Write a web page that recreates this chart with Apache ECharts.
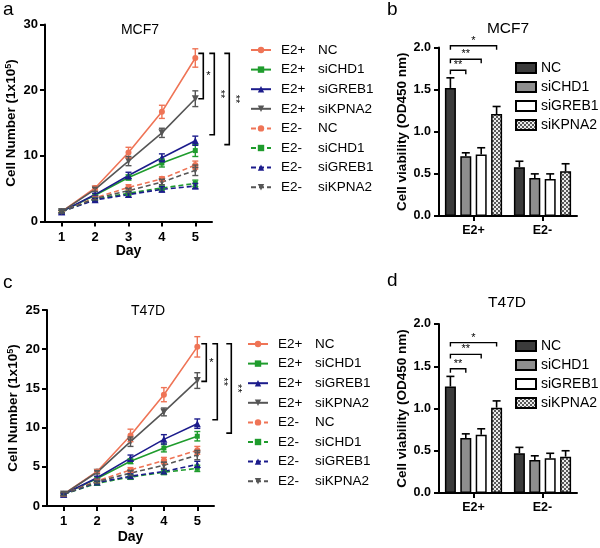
<!DOCTYPE html>
<html><head><meta charset="utf-8">
<script src="https://cdn.jsdelivr.net/npm/echarts@6/dist/echarts.min.js"></script>
<style>html,body{margin:0;padding:0;background:#fff}#c{width:600px;height:548px}</style>
</head><body><div id="c"></div>
<script>
// ---------------- DATA ----------------
const days = ['1','2','3','4','5'];
const lineNames = ['E2+ NC','E2+ siCHD1','E2+ siGREB1','E2+ siKPNA2','E2- NC','E2- siCHD1','E2- siGREB1','E2- siKPNA2'];
const yTicksA = [0,10,20,30];
const yTicksC = [0,5,10,15,20,25];

// Panel a: MCF7 cell number (x10^5)
const mcf7_E2p_NC     = [1.5, 5.1, 10.5, 16.7, 24.9];
const mcf7_E2p_siCHD1 = [1.5, 4.0, 6.7, 8.9, 10.8];
const mcf7_E2p_siGREB1= [1.5, 4.1, 7.0, 9.7, 12.3];
const mcf7_E2p_siKPNA2= [1.5, 4.9, 9.2, 13.5, 18.7];
const mcf7_E2m_NC     = [1.5, 3.6, 5.2, 6.5, 8.6];
const mcf7_E2m_siCHD1 = [1.5, 3.4, 4.3, 5.1, 5.8];
const mcf7_E2m_siGREB1= [1.5, 3.3, 4.1, 4.9, 5.4];
const mcf7_E2m_siKPNA2= [1.5, 3.5, 4.7, 6.0, 7.8];
const mcf7_err_E2p_NC     = [0.2, 0.3, 0.8, 1.0, 1.4];
const mcf7_err_E2p_siCHD1 = [0.2, 0.2, 0.4, 0.6, 0.9];
const mcf7_err_E2p_siGREB1= [0.2, 0.2, 0.5, 0.6, 0.7];
const mcf7_err_E2p_siKPNA2= [0.2, 0.3, 0.7, 0.7, 1.2];
const mcf7_err_E2m_NC     = [0.2, 0.2, 0.4, 0.3, 0.6];
const mcf7_err_E2m_siCHD1 = [0.2, 0.2, 0.3, 0.3, 0.5];
const mcf7_err_E2m_siGREB1= [0.2, 0.2, 0.4, 0.4, 0.4];
const mcf7_err_E2m_siKPNA2= [0.2, 0.2, 0.3, 0.4, 0.8];

// Panel c: T47D cell number (x10^5)
const t47d_E2p_NC     = [1.5, 4.4, 9.0, 14.2, 20.3];
const t47d_E2p_siCHD1 = [1.5, 3.5, 5.7, 7.4, 8.9];
const t47d_E2p_siGREB1= [1.5, 3.6, 6.1, 8.5, 10.5];
const t47d_E2p_siKPNA2= [1.5, 4.3, 8.2, 12.0, 16.0];
const t47d_E2m_NC     = [1.5, 3.2, 4.6, 5.8, 7.1];
const t47d_E2m_siCHD1 = [1.5, 2.9, 3.7, 4.3, 4.8];
const t47d_E2m_siGREB1= [1.5, 3.0, 3.8, 4.4, 5.3];
const t47d_E2m_siKPNA2= [1.5, 3.1, 4.2, 5.2, 6.5];
const t47d_err_E2p_NC     = [0.2, 0.2, 0.8, 0.9, 1.3];
const t47d_err_E2p_siCHD1 = [0.2, 0.2, 0.3, 0.5, 0.6];
const t47d_err_E2p_siGREB1= [0.2, 0.2, 0.4, 0.6, 0.6];
const t47d_err_E2p_siKPNA2= [0.2, 0.2, 0.6, 0.5, 1.0];
const t47d_err_E2m_NC     = [0.2, 0.2, 0.3, 0.4, 0.5];
const t47d_err_E2m_siCHD1 = [0.1, 0.2, 0.3, 0.3, 0.4];
const t47d_err_E2m_siGREB1= [0.1, 0.2, 0.3, 0.3, 0.4];
const t47d_err_E2m_siKPNA2= [0.2, 0.2, 0.3, 0.4, 0.6];

// Significance brackets for line panels: [top value, bottom value] at day 5
const mcf7_lineSig = [[25.6, 18.7], [25.6, 13.2], [25.6, 11.7]];
const t47d_lineSig = [[20.7, 15.9], [20.7, 11.0], [20.7, 9.3]];
const lineSigLabels = ['*', '**', '**'];

// Panels b, d: cell viability (OD450 nm)
const barGroups = ['E2+', 'E2-'];
const barNames = ['NC', 'siCHD1', 'siGREB1', 'siKPNA2'];
const mcf7_bar_NC      = [1.52, 0.58];
const mcf7_bar_siCHD1  = [0.71, 0.45];
const mcf7_bar_siGREB1 = [0.73, 0.44];
const mcf7_bar_siKPNA2 = [1.21, 0.53];
const mcf7_barErr_NC      = [0.12, 0.07];
const mcf7_barErr_siCHD1  = [0.04, 0.05];
const mcf7_barErr_siGREB1 = [0.08, 0.06];
const mcf7_barErr_siKPNA2 = [0.09, 0.09];
const t47d_bar_NC      = [1.26, 0.47];
const t47d_bar_siCHD1  = [0.65, 0.39];
const t47d_bar_siGREB1 = [0.69, 0.41];
const t47d_bar_siKPNA2 = [1.01, 0.43];
const t47d_barErr_NC      = [0.12, 0.07];
const t47d_barErr_siCHD1  = [0.05, 0.05];
const t47d_barErr_siGREB1 = [0.07, 0.06];
const t47d_barErr_siKPNA2 = [0.08, 0.07];
// bar significance brackets: [from bar, to bar, height]
const mcf7_barSig = [[0, 1, 1.73], [0, 2, 1.86], [0, 3, 2.02]];
const t47d_barSig = [[0, 1, 1.47], [0, 2, 1.64], [0, 3, 1.78]];
const barSigLabels = ['**', '**', '*'];

// ---------------- STYLE ----------------
const FONT = 'Liberation Sans, Arial, sans-serif';
const lineColors = ['#ef7456', '#1f9c2d', '#1c1c8c', '#565656'];
const symbols = ['circle', 'rect', 'triangle', 'triangle'];
const symRot = [0, 0, 0, 180];
const symSize = [6, 5, 7, 7];
const barW = 11, barGapRatio = 0.4;

const pat = document.createElement('canvas');
pat.width = 4; pat.height = 4;
(function () {
  const g = pat.getContext('2d');
  g.fillStyle = '#ececec'; g.fillRect(0, 0, 4, 4);
  g.fillStyle = '#5a5a5a'; g.fillRect(0, 0, 2, 2); g.fillRect(2, 2, 2, 2);
})();
const barFills = ['#3b3b3b', '#8e8e8e', '#ffffff', { image: pat, repeat: 'repeat' }];

const mcf7Lines = [mcf7_E2p_NC, mcf7_E2p_siCHD1, mcf7_E2p_siGREB1, mcf7_E2p_siKPNA2, mcf7_E2m_NC, mcf7_E2m_siCHD1, mcf7_E2m_siGREB1, mcf7_E2m_siKPNA2];
const mcf7Errs = [mcf7_err_E2p_NC, mcf7_err_E2p_siCHD1, mcf7_err_E2p_siGREB1, mcf7_err_E2p_siKPNA2, mcf7_err_E2m_NC, mcf7_err_E2m_siCHD1, mcf7_err_E2m_siGREB1, mcf7_err_E2m_siKPNA2];
const t47dLines = [t47d_E2p_NC, t47d_E2p_siCHD1, t47d_E2p_siGREB1, t47d_E2p_siKPNA2, t47d_E2m_NC, t47d_E2m_siCHD1, t47d_E2m_siGREB1, t47d_E2m_siKPNA2];
const t47dErrs = [t47d_err_E2p_NC, t47d_err_E2p_siCHD1, t47d_err_E2p_siGREB1, t47d_err_E2p_siKPNA2, t47d_err_E2m_NC, t47d_err_E2m_siCHD1, t47d_err_E2m_siGREB1, t47d_err_E2m_siKPNA2];
const mcf7Bars = [mcf7_bar_NC, mcf7_bar_siCHD1, mcf7_bar_siGREB1, mcf7_bar_siKPNA2];
const mcf7BarErrs = [mcf7_barErr_NC, mcf7_barErr_siCHD1, mcf7_barErr_siGREB1, mcf7_barErr_siKPNA2];
const t47dBars = [t47d_bar_NC, t47d_bar_siCHD1, t47d_bar_siGREB1, t47d_bar_siKPNA2];
const t47dBarErrs = [t47d_barErr_NC, t47d_barErr_siCHD1, t47d_barErr_siGREB1, t47d_barErr_siKPNA2];

const axisLineStyle = { lineStyle: { color: '#000', width: 2 } };
const axisTickStyle = { show: true, length: 5, inside: false, lineStyle: { color: '#000', width: 2 } };

function lineXAxis(gi, nameGap) {
  return {
    gridIndex: gi, type: 'category', data: days, boundaryGap: true,
    axisLine: axisLineStyle, axisTick: Object.assign({ alignWithLabel: true }, axisTickStyle),
    axisLabel: { color: '#000', fontWeight: 'bold', fontSize: 13, fontFamily: FONT, margin: 9 },
    name: 'Day', nameLocation: 'middle', nameGap: nameGap,
    nameTextStyle: { color: '#000', fontWeight: 'bold', fontSize: 14, fontFamily: FONT }
  };
}
function lineYAxis(gi, ticks) {
  return {
    gridIndex: gi, type: 'value', min: ticks[0], max: ticks[ticks.length - 1], interval: ticks[1] - ticks[0],
    axisLine: { show: true, lineStyle: { color: '#000', width: 2 } }, axisTick: axisTickStyle, splitLine: { show: false },
    axisLabel: { color: '#000', fontWeight: 'bold', fontSize: 13, fontFamily: FONT, margin: 7 },
    name: '{n|Cell Number (1x10}{s|5}{n|)}', nameLocation: 'middle', nameGap: 26, nameRotate: 90,
    nameTextStyle: {
      rich: {
        n: { color: '#000', fontWeight: 'bold', fontSize: 13.5, fontFamily: FONT },
        s: { color: '#000', fontWeight: 'bold', fontSize: 9, fontFamily: FONT, verticalAlign: 'top', padding: [0, 0, 6, 0] }
      }
    }
  };
}
function barXAxis(gi) {
  return {
    gridIndex: gi, type: 'category', data: barGroups,
    axisLine: axisLineStyle, axisTick: Object.assign({ alignWithLabel: true }, axisTickStyle),
    axisLabel: { color: '#000', fontWeight: 'bold', fontSize: 12.5, fontFamily: FONT, margin: 8 }
  };
}
function barYAxis(gi) {
  return {
    gridIndex: gi, type: 'value', min: 0, max: 2, interval: 0.5,
    axisLine: { show: true, lineStyle: { color: '#000', width: 2 } }, axisTick: axisTickStyle, splitLine: { show: false },
    axisLabel: { color: '#000', fontWeight: 'bold', fontSize: 12.5, fontFamily: FONT, margin: 8, formatter: v => v.toFixed(1) },
    name: 'Cell viability (OD450 nm)', nameLocation: 'middle', nameGap: 30, nameRotate: 90,
    nameTextStyle: { color: '#000', fontWeight: 'bold', fontSize: 13.5, fontFamily: FONT }
  };
}

const series = [];
function addLinePanel(gi, lines, errs, sig, sigOffsets) {
  lines.forEach((vals, k) => {
    const c = lineColors[k % 4];
    const dashed = k >= 4;
    series.push({
      name: lineNames[k], type: 'line', xAxisIndex: gi, yAxisIndex: gi, data: vals,
      symbol: symbols[k % 4], symbolRotate: symRot[k % 4], symbolSize: symSize[k % 4],
      showAllSymbol: true,
      lineStyle: { color: c, width: 1.6, type: dashed ? [5, 3] : 'solid' },
      itemStyle: { color: c, borderWidth: 0 }, z: 3, animation: false
    });
    const e = errs[k];
    series.push({
      name: 'err-' + gi + '-' + k, type: 'custom', xAxisIndex: gi, yAxisIndex: gi,
      data: vals.map((v, i) => [i, v - e[i], v + e[i]]),
      encode: { x: 0, y: [1, 2] }, z: 4, silent: true, animation: false,
      renderItem: (params, api) => {
        const p1 = api.coord([api.value(0), api.value(1)]);
        const p2 = api.coord([api.value(0), api.value(2)]);
        const w = 3, st = { stroke: c, lineWidth: 1.4 };
        return { type: 'group', children: [
          { type: 'line', shape: { x1: p1[0], y1: p1[1], x2: p2[0], y2: p2[1] }, style: st },
          { type: 'line', shape: { x1: p1[0] - w, y1: p1[1], x2: p1[0] + w, y2: p1[1] }, style: st },
          { type: 'line', shape: { x1: p2[0] - w, y1: p2[1], x2: p2[0] + w, y2: p2[1] }, style: st }
        ] };
      }
    });
  });
  series.push({
    name: 'sig-' + gi, type: 'custom', xAxisIndex: gi, yAxisIndex: gi, clip: false,
    data: sig.map(s => [4, s[0], s[1]]), z: 5, silent: true, animation: false,
    renderItem: (params, api) => {
      const i = params.dataIndex;
      const t = api.coord([api.value(0), api.value(1)]);
      const b = api.coord([api.value(0), api.value(2)]);
      const x = t[0] + sigOffsets[i];
      const st = { stroke: '#000', lineWidth: 1.6, fill: null };
      const lab = lineSigLabels[i];
      return { type: 'group', children: [
        { type: 'polyline', shape: { points: [[x - 5, t[1]], [x, t[1]], [x, b[1]], [x - 5, b[1]]] }, style: st },
        { type: 'text', x: x + (lab === '*' ? 5 : 6), y: (t[1] + b[1]) / 2, rotation: lab === '*' ? 0 : -Math.PI / 2,
          style: { text: lab, fill: '#000', font: '11px ' + FONT, textAlign: 'center', textVerticalAlign: 'middle' } }
      ] };
    }
  });
}
function addBarPanel(gi, bars, errs, sig) {
  const step = barW * (1 + barGapRatio);
  bars.forEach((vals, k) => {
    series.push({
      name: barNames[k], type: 'bar', xAxisIndex: gi, yAxisIndex: gi, data: vals,
      barWidth: barW, barGap: (barGapRatio * 100) + '%',
      itemStyle: { color: barFills[k], borderColor: '#000', borderWidth: 1.5 }, animation: false
    });
    const e = errs[k];
    series.push({
      name: 'berr-' + gi + '-' + k, type: 'custom', xAxisIndex: gi, yAxisIndex: gi,
      data: vals.map((v, i) => [i, v, v + e[i]]), encode: { x: 0, y: [1, 2] }, z: 4, silent: true, animation: false,
      renderItem: (params, api) => {
        const p1 = api.coord([api.value(0), api.value(1)]);
        const p2 = api.coord([api.value(0), api.value(2)]);
        const x = p1[0] + (k - 1.5) * step;
        const st = { stroke: '#000', lineWidth: 1.6 };
        return { type: 'group', children: [
          { type: 'line', shape: { x1: x, y1: p1[1], x2: x, y2: p2[1] }, style: st },
          { type: 'line', shape: { x1: x - 4, y1: p2[1], x2: x + 4, y2: p2[1] }, style: st }
        ] };
      }
    });
  });
  series.push({
    name: 'bsig-' + gi, type: 'custom', xAxisIndex: gi, yAxisIndex: gi, clip: false,
    data: sig.map(s => [0, s[2], s[0], s[1]]), z: 5, silent: true, animation: false,
    renderItem: (params, api) => {
      const i = params.dataIndex;
      const p = api.coord([api.value(0), api.value(1)]);
      const x1 = p[0] + (api.value(2) - 1.5) * step;
      const x2 = p[0] + (api.value(3) - 1.5) * step;
      const y = p[1];
      const st = { stroke: '#000', lineWidth: 1.4, fill: null };
      return { type: 'group', children: [
        { type: 'polyline', shape: { points: [[x1, y + 4], [x1, y], [x2, y], [x2, y + 4]] }, style: st },
        { type: 'text', x: (x1 + x2) / 2, y: y - 5,
          style: { text: barSigLabels[i], fill: '#000', font: '11px ' + FONT, textAlign: 'center', textVerticalAlign: 'middle' } }
      ] };
    }
  });
}

addLinePanel(0, mcf7Lines, mcf7Errs, mcf7_lineSig, [8, 19, 34]);
addBarPanel(1, mcf7Bars, mcf7BarErrs, mcf7_barSig);
addLinePanel(2, t47dLines, t47dErrs, t47d_lineSig, [9, 20, 34]);
addBarPanel(3, t47dBars, t47dBarErrs, t47d_barSig);

const lineLegendRich = {
  g: { fontSize: 13.5, fontFamily: FONT, color: '#000', width: 37 },
  s: { fontSize: 13.5, fontFamily: FONT, color: '#000' }
};
function lineLegend(left, top) {
  return {
    data: lineNames, orient: 'vertical', left: left, top: top, padding: 0, itemWidth: 20, itemHeight: 8, itemGap: 5.6,
    selectedMode: false,
    formatter: n => { const p = n.split(' '); return '{g|' + p[0] + '}{s|' + p[1] + '}'; },
    textStyle: { lineHeight: 14, padding: [0, 0, 0, 5], rich: lineLegendRich }
  };
}
function barLegend(left, top) {
  return {
    data: barNames, orient: 'vertical', left: left, top: top, padding: 0, itemWidth: 20, itemHeight: 10, itemGap: 5,
    icon: 'rect', selectedMode: false,
    textStyle: { fontSize: 14, fontFamily: FONT, color: '#000', lineHeight: 14 }
  };
}

function txt(t, x, y, size, align) {
  return { type: 'text', x: x, y: y, silent: true,
    style: { text: t, fill: '#000', font: size + 'px ' + FONT, textAlign: align || 'center', textVerticalAlign: 'middle' } };
}

const chart = echarts.init(document.getElementById('c'), null, { renderer: 'canvas' });
chart.setOption({
  backgroundColor: '#fff',
  animation: false,
  grid: [
    { left: 45, top: 24.5, width: 167, height: 197 },
    { left: 439, top: 47.5, width: 138, height: 168.5 },
    { left: 47, top: 310, width: 167, height: 196 },
    { left: 439, top: 324, width: 138, height: 169 }
  ],
  xAxis: [lineXAxis(0, 22), barXAxis(1), lineXAxis(2, 24), barXAxis(3)],
  yAxis: [lineYAxis(0, yTicksA), barYAxis(1), lineYAxis(2, yTicksC), barYAxis(3)],
  legend: [lineLegend(250, 43), barLegend(515, 61), lineLegend(247, 337), barLegend(515, 339)],
  graphic: [
    txt('a', 3, 10, 19, 'left'), txt('b', 387, 10, 19, 'left'),
    txt('c', 3, 283, 19, 'left'), txt('d', 387, 281, 19, 'left'),
    txt('MCF7', 140, 30, 14), txt('MCF7', 508, 29, 15.5),
    txt('T47D', 148, 311, 14), txt('T47D', 507, 303, 15.5)
  ],
  series: series
});
</script>
</body></html>
